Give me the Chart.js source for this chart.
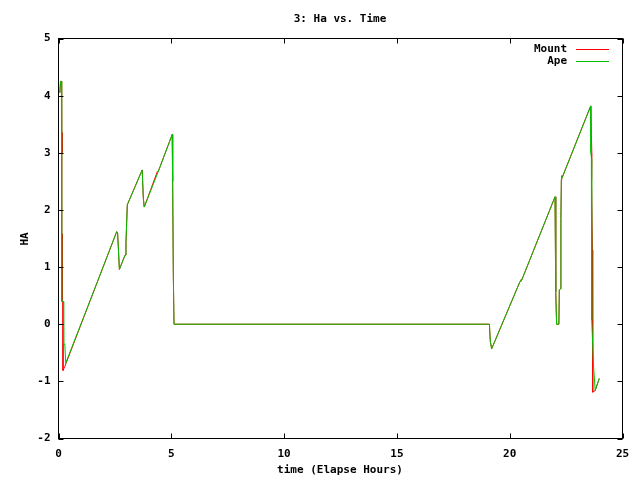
<!DOCTYPE html>
<html>
<head>
<meta charset="utf-8">
<script src="https://cdn.jsdelivr.net/npm/chart.js@4"></script>
<style>
  body { margin: 0; background: #fff; }
  canvas { display: block; }
</style>
</head>
<body>
<canvas id="haChart" width="640" height="480"></canvas>
<script>
// elapsed hours and HA for each series
const mountTime = [0.06, 0.09, 0.13, 0.14, 0.17, 0.17, 0.14, 0.14, 0.17, 0.17, 0.2, 0.2, 0.28,
    1.84, 2.58, 2.62, 2.70, 2.95, 2.99, 3.05, 3.71, 3.76, 3.80, 4.38, 4.42, 5.04, 5.06, 5.09, 5.12,
    19.10, 19.14, 19.20, 20.46, 20.50, 20.53, 22.01, 22.03, 22.05, 22.08, 22.18, 22.20, 22.26, 22.27,
    22.29, 22.31, 22.33, 23.59, 23.64, 23.64, 23.62, 23.67, 23.67, 23.69, 23.79, 23.97];
const mountHa = [4.05, 4.25, 4.25, 3.37, 3.35, 3.0, 2.95, 1.6, 1.58, 0.42, 0.4, -0.81, -0.74,
    0.86, 1.62, 1.6, 0.96, 1.21, 1.42, 2.09, 2.7, 2.21, 2.05, 2.67, 2.67, 3.32, 2.5, 0.85, 0,
    0, -0.3, -0.43, 0.75, 0.78, 0.77, 2.23, 0.57, 0.57, 0, 0, 0.6, 0.62, 1.85,
    2.53, 2.60, 2.57, 3.82, 3.0, 2.56, 2.5, 1.3, 0.07, -1.19, -1.16, -0.95];

const apeTime = [0.06, 0.09, 0.13, 0.14, 0.22, 0.23, 0.28, 0.32,
    1.84, 2.58, 2.62, 2.70, 2.95, 2.99, 3.05, 3.71, 3.76, 3.80, 4.42, 5.04, 5.06, 5.09, 5.12,
    19.10, 19.14, 19.20, 20.46, 20.50, 20.53, 22.01, 22.03, 22.05, 22.08, 22.18, 22.20, 22.26, 22.27,
    22.29, 23.59, 23.60, 23.62, 23.63, 23.64, 23.72, 23.79, 23.97];
const apeHa = [4.05, 4.25, 4.25, 0.4, 0.4, -0.35, -0.35, -0.68,
    0.86, 1.62, 1.6, 0.96, 1.21, 1.42, 2.09, 2.7, 2.21, 2.05, 2.67, 3.32, 2.5, 0.85, 0,
    0, -0.3, -0.43, 0.75, 0.78, 0.77, 2.23, 0.57, 0.57, 0, 0, 0.6, 0.62, 1.85,
    2.53, 3.82, 3.0, 2.9, 1.3, 0.07, -0.75, -1.16, -0.95];

const xTicks = [0, 5, 10, 15, 20, 25];
const yTicks = [-2, -1, 0, 1, 2, 3, 4, 5];

const FONT = 'bold 11px "DejaVu Sans Mono", monospace';

function toPoints(xs, ys) {
    return xs.map((x, i) => ({ x: x, y: ys[i] }));
}

// gnuplot look: frame, inward ticks on all sides, title, axis labels, legend
const gnuplotDecor = {
    id: 'gnuplotDecor',
    afterDatasetsDraw(chart) {
        const ctx = chart.ctx;
        const a = chart.chartArea;
        const xs = chart.scales.x;
        const ys = chart.scales.y;
        const tick = 5;
        ctx.save();
        ctx.strokeStyle = '#000';
        ctx.lineWidth = 1;
        ctx.strokeRect(a.left, a.top, a.right - a.left, a.bottom - a.top);
        ctx.beginPath();
        xTicks.forEach(v => {
            const px = Math.round(xs.getPixelForValue(v)) + 0.5;
            ctx.moveTo(px, a.bottom); ctx.lineTo(px, a.bottom - tick);
            ctx.moveTo(px, a.top); ctx.lineTo(px, a.top + tick);
        });
        yTicks.forEach(v => {
            const py = Math.round(ys.getPixelForValue(v)) + 0.5;
            ctx.moveTo(a.left, py); ctx.lineTo(a.left + tick, py);
            ctx.moveTo(a.right, py); ctx.lineTo(a.right - tick, py);
        });
        ctx.stroke();

        ctx.fillStyle = '#000';
        ctx.font = FONT;
        ctx.textAlign = 'center';
        ctx.textBaseline = 'middle';
        ctx.fillText('3: Ha vs. Time', 340, 19);
        ctx.fillText('time (Elapse Hours)', 340, 470);
        ctx.save();
        ctx.translate(25, 239);
        ctx.rotate(-Math.PI / 2);
        ctx.fillText('HA', 0, 0);
        ctx.restore();

        // legend
        const items = [['Mount', '#ff0000', 49], ['Ape', '#00c000', 61]];
        ctx.textAlign = 'right';
        items.forEach(([label, color, y]) => {
            ctx.fillStyle = '#000';
            ctx.fillText(label, 567, y);
            ctx.strokeStyle = color;
            ctx.beginPath();
            ctx.moveTo(576, y + 0.5);
            ctx.lineTo(609, y + 0.5);
            ctx.stroke();
        });
        ctx.restore();
    }
};

new Chart(document.getElementById('haChart'), {
    type: 'line',
    data: {
        datasets: [
            {
                label: 'Mount',
                data: toPoints(mountTime, mountHa),
                borderColor: '#ff0000',
                borderWidth: 1,
                pointRadius: 0,
                tension: 0,
                order: 1
            },
            {
                label: 'Ape',
                data: toPoints(apeTime, apeHa),
                borderColor: '#00c000',
                borderWidth: 1,
                pointRadius: 0,
                tension: 0,
                order: 0
            }
        ]
    },
    options: {
        responsive: false,
        animation: false,
        devicePixelRatio: 1,
        layout: { padding: { left: 0, right: 17.5, top: 38.5, bottom: 0 } },
        plugins: {
            legend: { display: false },
            title: { display: false },
            tooltip: { enabled: false }
        },
        scales: {
            x: {
                type: 'linear',
                min: 0,
                max: 25,
                afterFit: s => { s.height = 41.5; },
                afterBuildTicks: s => { s.ticks = xTicks.map(v => ({ value: v })); },
                grid: { display: false, drawTicks: false },
                border: { display: false },
                ticks: { color: '#000', font: { family: '"DejaVu Sans Mono", monospace', size: 11, weight: 'bold' }, padding: 9, maxRotation: 0 }
            },
            y: {
                type: 'linear',
                min: -2,
                max: 5,
                afterFit: s => { s.width = 58.5; },
                afterBuildTicks: s => { s.ticks = yTicks.map(v => ({ value: v })); },
                grid: { display: false, drawTicks: false },
                border: { display: false },
                ticks: { color: '#000', font: { family: '"DejaVu Sans Mono", monospace', size: 11, weight: 'bold' }, padding: 8 }
            }
        }
    },
    plugins: [gnuplotDecor]
});
</script>
</body>
</html>
